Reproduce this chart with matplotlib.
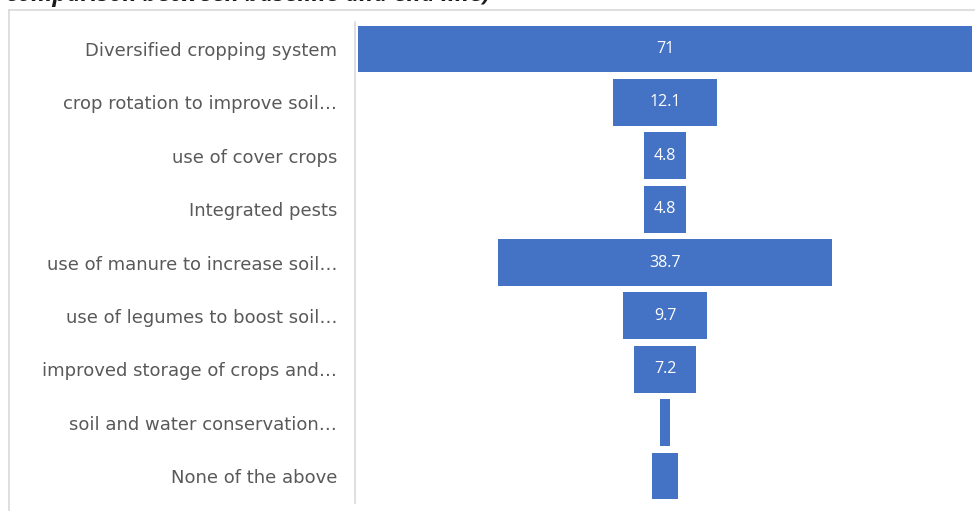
import matplotlib
matplotlib.use("Agg")
import matplotlib.pyplot as plt
from matplotlib.lines import Line2D

categories = [
    "Diversified cropping system",
    "crop rotation to improve soil…",
    "use of cover crops",
    "Integrated pests",
    "use of manure to increase soil…",
    "use of legumes to boost soil…",
    "improved storage of crops and…",
    "soil and water conservation…",
    "None of the above",
]
values = [71, 12.1, 4.8, 4.8, 38.7, 9.7, 7.2, 1.2, 3.1]
shown_labels = ["71", "12.1", "4.8", "4.8", "38.7", "9.7", "7.2", "", ""]

BAR = "#4472C4"
TEXT = "#595959"
FRAME = "#D9D9D9"

W, H = 975, 511
fig = plt.figure(figsize=(W / 100, H / 100), dpi=100)
fig.patch.set_facecolor("white")

# outer chart frame (top and left edges visible)
fig.add_artist(Line2D([9 / W, 1.0], [1 - 10 / H, 1 - 10 / H], color=FRAME, lw=1.2))
fig.add_artist(Line2D([9 / W, 9 / W], [0, 1 - 10 / H], color=FRAME, lw=1.2))

# caption of the figure, partly above the top edge
fig.text(6 / W, 1 + 5 / H, "comparison between baseline and end line)", fontsize=17,
         fontstyle="italic", fontweight="bold", family="Open Sans",
         color="#1a1a1a", va="center", ha="left")

top, bottom = 22.3, 502.7
left, right = 358, 972
ax = fig.add_axes([left / W, 1 - bottom / H, (right - left) / W, (bottom - top) / H])

half = max(values) / 2
y = list(range(len(values)))
ax.barh(y, values, left=[-v / 2 for v in values], height=0.88, color=BAR)
ax.set_xlim(-half, half)
ax.set_ylim(len(values) - 0.5, -0.5)

for yi, v, lab in zip(y, values, shown_labels):
    if lab:
        ax.text(0, yi, lab, ha="center", va="center", color="white",
                fontsize=11.5, family="Open Sans")

ax.set_yticks(y)
ax.set_yticklabels(categories)
ax.tick_params(axis="y", length=0, pad=13, labelcolor=TEXT, labelsize=13)
for t in ax.get_yticklabels():
    t.set_fontfamily("Open Sans")
ax.set_xticks([])
for s in ["top", "right", "bottom"]:
    ax.spines[s].set_visible(False)
ax.spines["left"].set_color(FRAME)
ax.spines["left"].set_linewidth(1.2)
ax.spines["left"].set_position(("outward", 2))

fig.savefig("out.png", dpi=100)
